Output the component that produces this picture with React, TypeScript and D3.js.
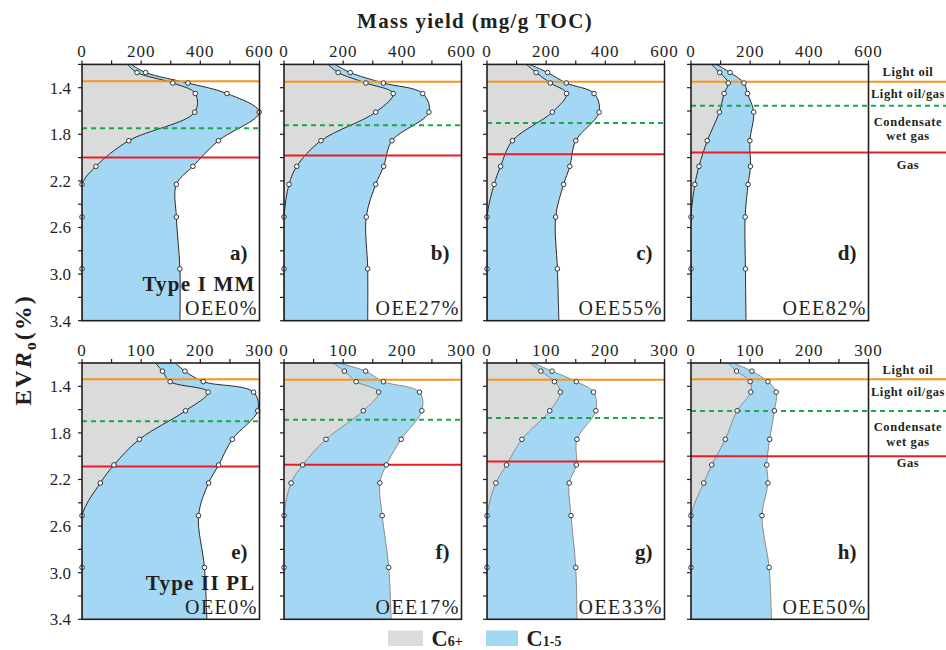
import React from "react";
import * as d3 from "d3";

const RO = [1.2, 1.27, 1.36, 1.45, 1.61, 1.855, 2.075, 2.23, 2.51, 2.955, 3.4];

const C6_A = [153, 186, 307, 383, 381, 158, 47, 0, 0, 0, 0];
const TOT_A = [166, 215, 358, 490, 599, 461, 375, 319, 319, 331, 331];
const C6_B = [149, 183, 277, 369, 310, 125, 43, 17, 0, 0, 0];
const TOT_B = [172, 224, 336, 469, 490, 365, 337, 310, 278, 283, 283];
const C6_C = [133, 166, 214, 269, 221, 86, 46, 24, 0, 0, 0];
const TOT_C = [144, 205, 268, 362, 379, 300, 280, 259, 232, 238, 243];
const C6_D = [69, 97, 126, 112, 96, 55, 27, 13, 0, 0, 0];
const TOT_D = [86, 132, 179, 191, 212, 199, 201, 193, 183, 184, 186];
const C6_E = [124, 136, 149, 213, 175, 97, 54, 31, 0, 0, 0];
const TOT_E = [158, 174, 205, 290, 297, 254, 231, 214, 197, 207, 211];
const C6_F = [83, 102, 122, 160, 134, 71, 31.5, 12, 0, 0, 0];
const TOT_F = [92, 138, 168, 229, 233, 198, 173, 162, 166, 177, 181];
const C6_G = [72, 91, 114, 124, 106, 59, 33, 15, 0, 0, 0];
const TOT_G = [78, 110, 151, 180, 184, 152, 151, 139, 142, 150, 152];
const C6_H = [63, 77, 100, 101, 78, 58, 35, 21.5, 0, 0, 0];
const TOT_H = [71, 103, 130, 144, 141, 133, 128, 130, 120, 132, 136];

const C6 = [C6_A, C6_B, C6_C, C6_D, C6_E, C6_F, C6_G, C6_H];
const TOT = [TOT_A, TOT_B, TOT_C, TOT_D, TOT_E, TOT_F, TOT_G, TOT_H];

const ORANGE = [1.345, 1.348, 1.348, 1.348, 1.34, 1.343, 1.343, 1.34];
const GREEN = [1.748, 1.722, 1.703, 1.554, 1.7, 1.687, 1.673, 1.613];
const RED = [2.0, 1.983, 1.971, 1.957, 2.088, 2.074, 2.045, 2.0];

const LETTERS = ["a)", "b)", "c)", "d)", "e)", "f)", "g)", "h)"];
const OEE = ["OEE0%", "OEE27%", "OEE55%", "OEE82%", "OEE0%", "OEE17%", "OEE33%", "OEE50%"];
const TYPES = ["Type I MM", "", "", "", "Type II PL", "", "", ""];

const X_MAX = [600, 300];
const X_MINOR = [100, 50];
const X_MAJOR = [200, 100];
const Y_TICKS = [1.2, 1.4, 1.6, 1.8, 2.0, 2.2, 2.4, 2.6, 2.8, 3.0, 3.2, 3.4];
const Y_LABELS = [1.4, 1.8, 2.2, 2.6, 3.0, 3.4];

const ZONES = ["Light oil", "Light oil/gas", "Condensate", "wet gas", "Gas"];
const ZONE_RO = [
  [1.261, 1.45, 1.69, 1.815, 2.059],
  [1.256, 1.445, 1.75, 1.872, 2.054],
];

const COL_X = [82, 284, 487, 691];
const PW = 177.5;
const ROW_Y = [64.4, 363];
const PH = 256.3;

const GRAY = "#dadbdb";
const BLUE = "#a3d7f3";
const FONT = "'Liberation Serif', 'Times New Roman', serif";

function Panel({ i }: { i: number }) {
  const row = Math.floor(i / 4);
  const col = i % 4;
  const left = COL_X[col];
  const top = ROW_Y[row];
  const x = d3.scaleLinear().domain([0, X_MAX[row]]).range([left, left + PW]);
  const y = d3.scaleLinear().domain([1.2, 3.4]).range([top, top + PH]);
  const c6 = C6[i];
  const tot = TOT[i];
  const idx = RO.map((_, k) => k);
  const curve = d3.curveCatmullRom.alpha(0.5);
  const grayArea = d3
    .area<number>()
    .y((k) => y(RO[k]))
    .x0(() => x(0))
    .x1((k) => x(c6[k]))
    .curve(curve);
  const blueArea = d3
    .area<number>()
    .y((k) => y(RO[k]))
    .x0((k) => x(c6[k]))
    .x1((k) => x(tot[k]))
    .curve(curve);
  const innerLine = d3
    .line<number>()
    .x((k) => x(c6[k]))
    .y((k) => y(RO[k]))
    .curve(curve);
  const outerLine = d3
    .line<number>()
    .x((k) => x(tot[k]))
    .y((k) => y(RO[k]))
    .curve(curve);
  const lineColor = i >= 5 ? "#8a8a8a" : "#2a2a2a";
  const clipId = `clip${i}`;
  const xEnd = col === 3 ? 946 : left + PW;
  const minor = d3.range(0, X_MAX[row] + 0.001, X_MINOR[row]);
  const major = d3.range(0, X_MAX[row] + 0.001, X_MAJOR[row]);
  const markIdx = idx.slice(1, idx.length - 1);
  return (
    <g>
      <defs>
        <clipPath id={clipId}>
          <rect x={left} y={top} width={PW} height={PH} />
        </clipPath>
      </defs>
      <g clipPath={`url(#${clipId})`}>
        <path d={grayArea(idx) || ""} fill={GRAY} />
        <path d={blueArea(idx) || ""} fill={BLUE} />
        <path d={innerLine(idx) || ""} fill="none" stroke={lineColor} strokeWidth={1} />
        <path d={outerLine(idx) || ""} fill="none" stroke={lineColor} strokeWidth={1} />
      </g>
      <line x1={left} x2={xEnd} y1={y(ORANGE[i])} y2={y(ORANGE[i])} stroke="#f7941d" strokeWidth={2} />
      <line
        x1={left}
        x2={xEnd}
        y1={y(GREEN[i])}
        y2={y(GREEN[i])}
        stroke="#1ba84a"
        strokeWidth={2}
        strokeDasharray="5,4"
      />
      <line x1={left} x2={xEnd} y1={y(RED[i])} y2={y(RED[i])} stroke="#ed1c24" strokeWidth={2} />
      {markIdx.map((k) => (
        <circle key={`c${k}`} cx={x(c6[k])} cy={y(RO[k])} r={2.3} fill="#fff" stroke="#222" strokeWidth={0.9} />
      ))}
      {markIdx.map((k) => (
        <circle key={`t${k}`} cx={x(tot[k])} cy={y(RO[k])} r={2.3} fill="#fff" stroke="#222" strokeWidth={0.9} />
      ))}
      <rect x={left} y={top} width={PW} height={PH} fill="none" stroke="#231f20" strokeWidth={1.6} />
      {minor.map((v) => (
        <line key={`xt${v}`} x1={x(v)} x2={x(v)} y1={top} y2={top - 4} stroke="#231f20" strokeWidth={1.2} />
      ))}
      {major.map((v) => (
        <text
          key={`xl${v}`}
          x={x(v)}
          y={top - 7.5}
          textAnchor="middle"
          fontFamily={FONT}
          fontSize={17}
          letterSpacing={1}
          fill="#231f20"
        >
          {v}
        </text>
      ))}
      {Y_TICKS.map((v) => (
        <line key={`yt${v}`} x1={left} x2={left - 4} y1={y(v)} y2={y(v)} stroke="#231f20" strokeWidth={1.2} />
      ))}
      {col === 0 &&
        Y_LABELS.map((v) => (
          <text
            key={`yl${v}`}
            x={left - 11}
            y={y(v)}
            dy="0.35em"
            textAnchor="end"
            fontFamily={FONT}
            fontSize={17}
            fill="#231f20"
          >
            {v.toFixed(1)}
          </text>
        ))}
      <text
        x={left + PW - 12}
        y={top + 196}
        textAnchor="end"
        fontFamily={FONT}
        fontSize={21}
        fontWeight="bold"
        fill="#231f20"
      >
        {LETTERS[i]}
      </text>
      {TYPES[i] && (
        <text
          x={left + PW - 4}
          y={top + 227}
          textAnchor="end"
          fontFamily={FONT}
          fontSize={21}
          fontWeight="bold"
          letterSpacing={1.2}
          fill="#231f20"
        >
          {TYPES[i]}
        </text>
      )}
      <text
        x={left + PW - 1.5}
        y={top + 250.5}
        textAnchor="end"
        fontFamily={FONT}
        fontSize={20}
        letterSpacing={1.5}
        fill="#231f20"
      >
        {OEE[i]}
      </text>
      {col === 3 &&
        ZONES.map((z, k) => (
          <text
            key={z}
            x={908}
            y={y(ZONE_RO[row][k])}
            dy="0.35em"
            textAnchor="middle"
            fontFamily={FONT}
            fontSize={12.5}
            fontWeight="bold"
            letterSpacing={0.6}
            fill="#231f20"
          >
            {z}
          </text>
        ))}
    </g>
  );
}

export default function App() {
  const panels = d3.range(8);
  return (
    <svg
      width={946}
      height={650}
      style={{ position: "absolute", left: 0, top: 0, background: "#fff" }}
    >
      <rect x={0} y={0} width={946} height={650} fill="#fff" />
      <text
        x={475}
        y={28}
        textAnchor="middle"
        fontFamily={FONT}
        fontSize={21}
        fontWeight="bold"
        letterSpacing={1.3}
        fill="#231f20"
      >
        Mass yield (mg/g TOC)
      </text>
      <text
        transform="translate(31,350) rotate(-90)"
        textAnchor="middle"
        fontFamily={FONT}
        fontSize={24}
        fontWeight="bold"
        letterSpacing={2}
        fill="#231f20"
      >
        EV
        <tspan fontStyle="italic">R</tspan>
        <tspan fontSize={16} dy={5}>o</tspan>
        <tspan dy={-5}>(%)</tspan>
      </text>
      {panels.map((i) => (
        <Panel key={i} i={i} />
      ))}
      <rect x={388} y={630.5} width={35} height={15.5} fill={GRAY} />
      <text x={431.5} y={645.5} fontFamily={FONT} fontWeight="bold" fill="#231f20">
        <tspan fontSize={22.5}>C</tspan>
        <tspan fontSize={14}>6+</tspan>
      </text>
      <rect x={486} y={630.5} width={32} height={15.5} fill={BLUE} />
      <text x={526.5} y={645.5} fontFamily={FONT} fontWeight="bold" fill="#231f20">
        <tspan fontSize={22.5}>C</tspan>
        <tspan fontSize={14}>1-5</tspan>
      </text>
    </svg>
  );
}
